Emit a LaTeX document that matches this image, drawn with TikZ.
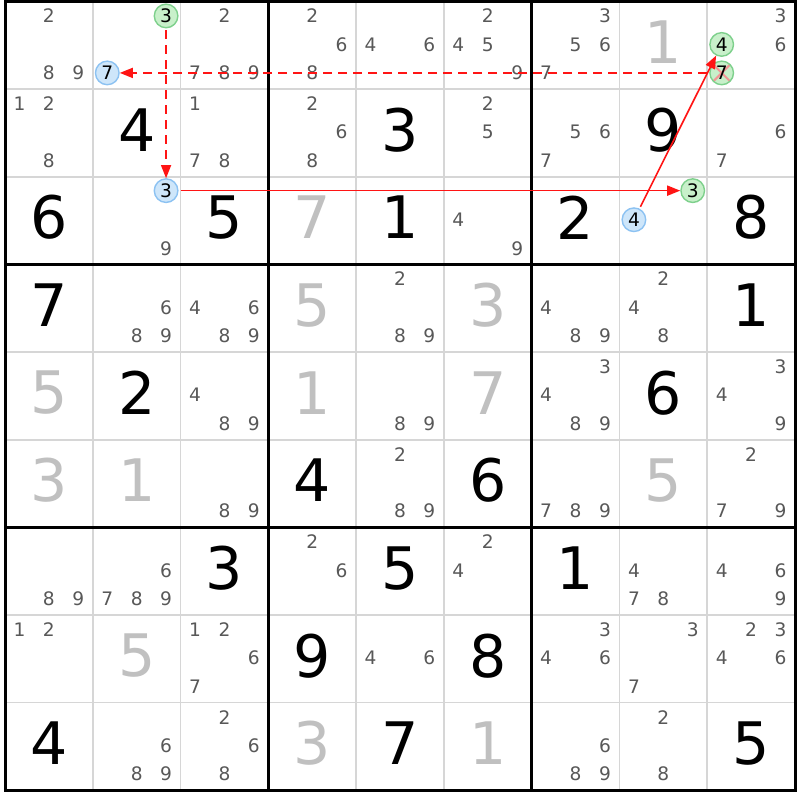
\documentclass[tikz,border=0pt]{standalone}
\usepackage{fontspec}
\setmainfont{DejaVu Sans}
\usetikzlibrary{arrows.meta}
\definecolor{candgray}{RGB}{88,88,88}
\definecolor{solvedgray}{RGB}{192,192,192}
\definecolor{gridgray}{RGB}{214,214,214}
\definecolor{bluefill}{RGB}{206,230,250}
\definecolor{blueline}{RGB}{140,194,242}
\definecolor{greenfill}{RGB}{200,240,202}
\definecolor{greenline}{RGB}{126,208,140}
\definecolor{linkred}{RGB}{255,20,20}
\definecolor{crosspink}{RGB}{242,150,150}
\begin{document}
\begin{tikzpicture}[x=43.89pt,y=-43.83pt,
		cand/.style={text=candgray,font=\fontsize{9.3}{10}\selectfont,inner sep=0pt},
		given/.style={font=\fontsize{29.3}{32}\selectfont,inner sep=0pt},
		solved/.style={given,text=solvedgray},
		bluemark/.style={circle,minimum size=11.8pt,inner sep=0pt,line width=0.7pt,draw=blueline,fill=bluefill,font=\fontsize{9.3}{10}\selectfont},
		greenmark/.style={bluemark,draw=greenline,fill=greenfill},
		elim/.style={path picture={\draw [crosspink,line width=1pt] (path picture bounding box.north west) -- (path picture bounding box.south east) (path picture bounding box.north east) -- (path picture bounding box.south west);}},
		strong/.style={draw=linkred,line width=0.8pt,shorten <=1pt,-{Triangle[length=6.5pt,width=5pt]}},
		weak/.style={strong,line width=0.7pt,dash pattern=on 4.5pt off 3pt}]
		\useasboundingbox (-0.057,-0.017) rectangle (9.057,9.108);
		\fill [white] (-0.057,-0.017) rectangle (9.057,9.108);
		\foreach \i in {1,2,4,5,7,8} {
			\draw [gridgray,line width=0.75pt] (\i,0) -- (\i,9);
			\draw [gridgray,line width=0.75pt] (0,\i) -- (9,\i);
		}
		\foreach \i in {3,6} {
			\draw [black,line width=1.3pt] (\i,0) -- (\i,9);
			\draw [black,line width=1.3pt] (0,\i) -- (9,\i);
		}
		\draw [black,line width=1.5pt] (0,0) rectangle (9,9);
		\foreach \c/\r/\v in {2/2/4,5/2/3,8/2/9,1/3/6,3/3/5,5/3/1,7/3/2,9/3/8,1/4/7,9/4/1,2/5/2,8/5/6,4/6/4,6/6/6,3/7/3,5/7/5,7/7/1,4/8/9,6/8/8,1/9/4,5/9/7,9/9/5}
			\node [given] (r\r-\c) at (\c-0.5,\r-0.535) {\v};
		\foreach \c/\r/\v in {8/1/1,4/3/7,4/4/5,6/4/3,1/5/5,4/5/1,6/5/7,1/6/3,2/6/1,8/6/5,2/8/5,4/9/3,6/9/1}
			\node [solved] (r\r-\c) at (\c-0.5,\r-0.535) {\v};
		\foreach \c/\r/\ds in {1/1/{2,8,9},3/1/{2,7,8,9},4/1/{2,6,8},5/1/{4,6},6/1/{2,4,5,9},7/1/{3,5,6,7},9/1/{3,6},
			1/2/{1,2,8},3/2/{1,7,8},4/2/{2,6,8},6/2/{2,5},7/2/{5,6,7},9/2/{6,7},2/3/{9},6/3/{4,9},
			2/4/{6,8,9},3/4/{4,6,8,9},5/4/{2,8,9},7/4/{4,8,9},8/4/{2,4,8},3/5/{4,8,9},5/5/{8,9},7/5/{3,4,8,9},9/5/{3,4,9},
			3/6/{8,9},5/6/{2,8,9},7/6/{7,8,9},9/6/{2,7,9},1/7/{8,9},2/7/{6,7,8,9},4/7/{2,6},6/7/{2,4},8/7/{4,7,8},9/7/{4,6,9},
			1/8/{1,2},3/8/{1,2,6,7},5/8/{4,6},7/8/{3,4,6},8/8/{3,7},9/8/{2,3,4,6},2/9/{6,8,9},3/9/{2,6,8},7/9/{6,8,9},8/9/{2,8}}
			\foreach \d in \ds {
				\pgfmathsetmacro\cx{\c-0.5+0.335*(mod(\d-1,3)-1)}
				\pgfmathsetmacro\cy{\r-0.5+0.325*(int((\d-1)/3)-1)-0.01}
				\node [cand] (r\r-\c-\d) at (\cx,\cy) {\d};
			}
		\node [greenmark] (r1-2-3) at (1.835,0.165) {3};
		\node [bluemark] (r1-2-7) at (1.165,0.815) {7};
		\node [bluemark] (r3-2-3) at (1.835,2.158) {3};
		\node [greenmark] (r3-8-3) at (7.835,2.158) {3};
		\node [bluemark] (r3-8-4) at (7.165,2.49) {4};
		\node [greenmark] (r1-9-4) at (8.165,0.49) {4};
		\node [greenmark,elim] (r1-9-7) at (8.165,0.815) {7};
		\draw [weak] (r1-2-3) -- (r3-2-3);
		\draw [strong] (r3-2-3) -- (r3-8-3);
		\draw [strong] (r3-8-4) -- (r1-9-4);
		\draw [weak] (r1-9-7) -- (r1-2-7);
	\end{tikzpicture}
\end{document}
